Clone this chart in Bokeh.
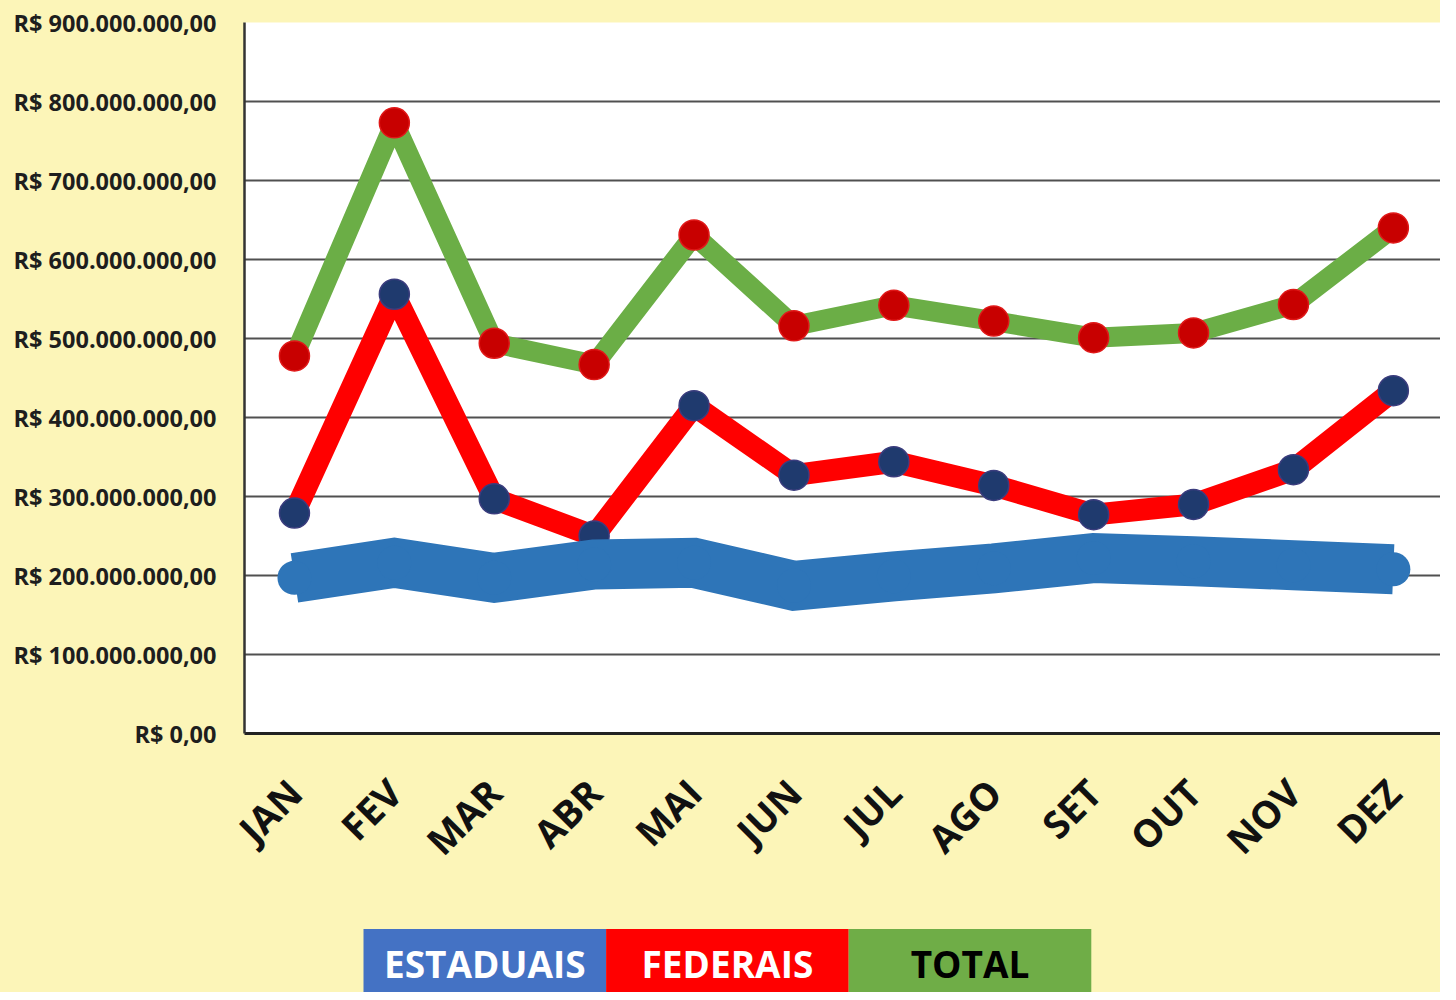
import numpy as np
from bokeh.plotting import figure
from bokeh.layouts import column
from bokeh.models import Range1d, FixedTicker
from bokeh.core.properties import value
from bokeh.embed import file_html
from bokeh.resources import INLINE

# ---------------- data ----------------
months = ["JAN", "FEV", "MAR", "ABR", "MAI", "JUN", "JUL", "AGO", "SET", "OUT", "NOV", "DEZ"]
estaduais = [197e6, 216e6, 197e6, 214e6, 216e6, 187e6, 199e6, 209e6, 222e6, 218e6, 213e6, 208e6]
federais = [279e6, 556e6, 297e6, 250e6, 415e6, 327e6, 344e6, 314e6, 277e6, 290e6, 334e6, 434e6]
total = [478e6, 773e6, 494e6, 467e6, 631e6, 516e6, 542e6, 522e6, 501e6, 507e6, 543e6, 640e6]

y_ticks = [0, 100000000, 200000000, 300000000, 400000000, 500000000,
           600000000, 700000000, 800000000, 900000000]
y_tick_labels = ["R$ 0,00", "R$ 100.000.000,00", "R$ 200.000.000,00", "R$ 300.000.000,00",
                 "R$ 400.000.000,00", "R$ 500.000.000,00", "R$ 600.000.000,00",
                 "R$ 700.000.000,00", "R$ 800.000.000,00", "R$ 900.000.000,00"]

legend_names = ["ESTADUAIS", "FEDERAIS", "TOTAL"]
legend_colors = ["#4472C4", "#FF0000", "#6FAD47"]
legend_text_colors = ["#FFFFFF", "#FFFFFF", "#000000"]

# ---------------- style ----------------
BG = "#FCF5B8"
FONT = "Open Sans"
W = 1440
H_MAIN = 900
H_LEG = 92
FRAME_LEFT = 244
FRAME_TOP = 22
FRAME_BOTTOM = 733
FRAME_W = W - FRAME_LEFT
STEP = 99.9  # px per month

x = list(range(len(months)))

p = figure(width=W, height=H_MAIN,
           x_range=Range1d(-0.5, -0.5 + FRAME_W / STEP),
           y_range=Range1d(0, 900000000),
           output_backend="svg", toolbar_location=None,
           min_border_left=FRAME_LEFT, min_border_right=0,
           min_border_top=FRAME_TOP, min_border_bottom=H_MAIN - FRAME_BOTTOM,
           background_fill_color="white", border_fill_color=BG,
           outline_line_color=None)

# y axis
p.yaxis.ticker = FixedTicker(ticks=y_ticks)
p.yaxis.major_label_overrides = {t: l for t, l in zip(y_ticks, y_tick_labels)}
p.yaxis.major_tick_line_color = None
p.yaxis.minor_tick_line_color = None
p.yaxis.axis_line_color = "#333333"
p.yaxis.axis_line_width = 2.5
p.yaxis.major_label_text_font = FONT
p.yaxis.major_label_text_font_style = "bold"
p.yaxis.major_label_text_font_size = "23.5px"
p.yaxis.major_label_text_color = "#1e1e1e"
p.yaxis.major_label_standoff = 22

# x axis
p.xaxis.ticker = FixedTicker(ticks=x)
p.xaxis.major_label_overrides = {i: m for i, m in zip(x, months)}
p.xaxis.major_label_orientation = np.pi / 4
p.xaxis.major_tick_line_color = None
p.xaxis.minor_tick_line_color = None
p.xaxis.axis_line_color = "#222222"
p.xaxis.axis_line_width = 3
p.xaxis.major_label_text_font = FONT
p.xaxis.major_label_text_font_style = "bold"
p.xaxis.major_label_text_font_size = "38px"
p.xaxis.major_label_text_color = "#111111"
p.xaxis.major_label_standoff = 46

# grid
p.xgrid.visible = False
p.ygrid.ticker = FixedTicker(ticks=y_ticks)
p.ygrid.grid_line_color = "#505050"
p.ygrid.grid_line_width = 2

# series
p.line(x, total, line_width=20, line_color="#6BAE46", line_join="round")
p.scatter(x, total, size=30, fill_color="#C80000", line_color="#E01818", line_width=1.5)

p.line(x, federais, line_width=22, line_color="#FF0000", line_join="round")
p.scatter(x, federais, size=30, fill_color="#1F3A6E", line_color="#3B3D7E", line_width=1.5)

p.line(x, estaduais, line_width=50, line_color="#2E75B8", line_join="miter")
p.scatter(x, estaduais, size=34, fill_color="#2E75B8", line_color=None)

# ---------------- legend strip ----------------
# (its frame is aligned with the main frame by the column layout,
#  so its x range is expressed in the main figure's pixel columns)
lg = figure(width=W, height=H_LEG, x_range=Range1d(FRAME_LEFT, W), y_range=Range1d(H_LEG, 0),
            output_backend="svg", toolbar_location=None,
            x_axis_location=None, y_axis_location=None,
            min_border=0, border_fill_color=BG, background_fill_color=BG,
            outline_line_color=None)
lg.grid.visible = False
box_w = 242.6
left0 = 363
lefts = [left0 + i * box_w for i in range(len(legend_names))]
rights = [l + box_w for l in lefts]
centers = [l + box_w / 2 for l in lefts]
lg.quad(left=lefts, right=rights, top=28.5, bottom=H_LEG + 10,
        fill_color=legend_colors, line_color=None)
lg.text(x=centers, y=[63] * len(centers), text=legend_names,
        text_color=legend_text_colors, text_font=value(FONT),
        text_font_style="bold", text_font_size="37px",
        text_align="center", text_baseline="middle")

layout = column(p, lg, spacing=0, styles={"background-color": BG})

html = file_html(layout, INLINE)
html = html.replace("<body>", '<body style="background-color:%s;">' % BG, 1)
open("out.html", "w").write(html)
